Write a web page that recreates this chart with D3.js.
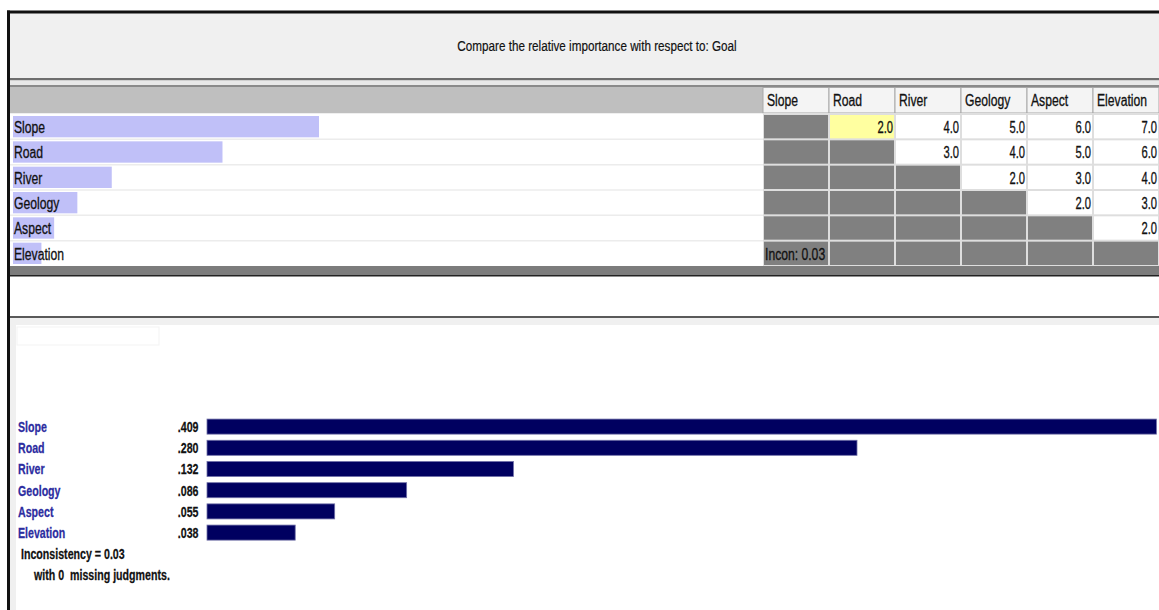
<!DOCTYPE html>
<html>
<head>
<meta charset="utf-8">
<script src="https://cdn.jsdelivr.net/npm/d3@7"></script>
<style>
  html, body { margin: 0; padding: 0; background: #ffffff; overflow: hidden; }
  svg { display: block; }
  text { font-family: "Liberation Sans", Arial, sans-serif; }
</style>
</head>
<body>
<svg id="chart" width="1159" height="610"></svg>
<script>
// ---- data ----
const titleText = "Compare the relative importance with respect to: Goal";
const criteria = ["Slope", "Road", "River", "Geology", "Aspect", "Elevation"];
const priorities = [0.409, 0.280, 0.132, 0.086, 0.055, 0.038];
const priorityLabels = [".409", ".280", ".132", ".086", ".055", ".038"];
// upper-triangle pairwise judgments (row vs column)
const judgmentsSlope = [null, 2.0, 4.0, 5.0, 6.0, 7.0];
const judgmentsRoad = [null, null, 3.0, 4.0, 5.0, 6.0];
const judgmentsRiver = [null, null, null, 2.0, 3.0, 4.0];
const judgmentsGeology = [null, null, null, null, 2.0, 3.0];
const judgmentsAspect = [null, null, null, null, null, 2.0];
const judgmentsElevation = [null, null, null, null, null, null];
const inconsistency = 0.03;
const missingJudgments = 0;
const selectedCell = ["Slope", "Road"];

const matrix = [judgmentsSlope, judgmentsRoad, judgmentsRiver, judgmentsGeology, judgmentsAspect, judgmentsElevation];

const W = 1159, H = 610;
const NARROW = 0.76;
const svg = d3.select("#chart");
const tr = (x, y, s) => `translate(${x},${y}) scale(${s === undefined ? NARROW : s},1)`;

// ---- frame ----
svg.append("rect").attr("x", 0).attr("y", 0).attr("width", W).attr("height", H).attr("fill", "#ffffff");
svg.append("rect").attr("x", 9).attr("y", 13).attr("width", W - 9).attr("height", 65).attr("fill", "#f0f0f0");
svg.append("rect").attr("x", 7).attr("y", 10.5).attr("width", W - 7).attr("height", 3).attr("fill", "#111");
svg.append("text").attr("transform", tr(597, 51, 0.78)).attr("text-anchor", "middle")
  .attr("font-size", 15).attr("fill", "#111").attr("stroke", "#111").attr("stroke-width", 0.2).text(titleText);
svg.append("rect").attr("x", 9).attr("y", 78).attr("width", W - 9).attr("height", 2.5).attr("fill", "#6e6e6e");
svg.append("rect").attr("x", 9).attr("y", 80.5).attr("width", W - 9).attr("height", 4.5).attr("fill", "#e8e8e8");
svg.append("rect").attr("x", 9).attr("y", 85).attr("width", W - 9).attr("height", 2).attr("fill", "#8a8a8a");

// ---- comparison table ----
const col = d3.scaleBand().domain(criteria).range([763, 1159]);
const row = d3.scaleBand().domain(criteria).range([114, 266]);
const headerTop = 87, headerBottom = 113.5;

svg.append("rect").attr("x", 9).attr("y", headerTop).attr("width", W - 9).attr("height", headerBottom - headerTop).attr("fill", "#bfbfbf");
const hdr = svg.append("g");
hdr.selectAll("rect").data(criteria).join("rect")
  .attr("x", d => col(d)).attr("y", headerTop + 0.5)
  .attr("width", col.bandwidth()).attr("height", headerBottom - headerTop - 1)
  .attr("fill", "#f4f4f4").attr("stroke", "#a8a8a8").attr("stroke-width", 1);
hdr.selectAll("text").data(criteria).join("text")
  .attr("transform", d => tr(col(d) + 4, 106))
  .attr("font-size", 16).attr("fill", "#111").attr("stroke", "#111").attr("stroke-width", 0.3)
  .text(d => d);

// row backgrounds and separators
svg.append("rect").attr("x", 9).attr("y", 113.5).attr("width", W - 9).attr("height", 266 - 113.5).attr("fill", "#ffffff");
svg.append("g").selectAll("line").data(criteria.slice(1)).join("line")
  .attr("x1", 10).attr("x2", 763).attr("y1", d => row(d)).attr("y2", d => row(d))
  .attr("stroke", "#ececec").attr("stroke-width", 1.5);

// priority bars behind labels
const xTop = d3.scaleLinear().domain([0, 0.409]).range([13, 319]);
svg.append("g").selectAll("rect").data(criteria).join("rect")
  .attr("x", xTop(0)).attr("y", d => row(d) + 2)
  .attr("width", (d, i) => xTop(priorities[i]) - xTop(0))
  .attr("height", row.bandwidth() - 4)
  .attr("fill", "#c0c0f8");
svg.append("g").selectAll("text").data(criteria).join("text")
  .attr("transform", d => tr(14, row(d) + 19))
  .attr("font-size", 16).attr("fill", "#111").attr("stroke", "#111").attr("stroke-width", 0.3)
  .text(d => d);

// matrix cells
svg.append("rect").attr("x", 763).attr("y", 113.5).attr("width", W - 763).attr("height", 266 - 113.5).attr("fill", "#dedede");
const cells = [];
criteria.forEach((r, i) => criteria.forEach((c, j) => cells.push({ r, c, i, j, v: matrix[i][j] })));
const cellG = svg.append("g");
cellG.selectAll("rect").data(cells).join("rect")
  .attr("x", d => col(d.c) + 1).attr("y", d => row(d.r) + 1)
  .attr("width", col.bandwidth() - 2).attr("height", row.bandwidth() - 2)
  .attr("fill", d => {
    if (d.r === selectedCell[0] && d.c === selectedCell[1]) return "#ffffa0";
    return d.j <= d.i ? "#808080" : "#ffffff";
  });
cellG.selectAll("text").data(cells.filter(d => d.v !== null)).join("text")
  .attr("transform", d => tr(col(d.c) + col.bandwidth() - 2, row(d.r) + 19, 0.7))
  .attr("text-anchor", "end").attr("font-size", 16).attr("fill", "#111").attr("stroke", "#111").attr("stroke-width", 0.3)
  .text(d => d3.format(".1f")(d.v));
svg.append("text").attr("transform", tr(col(criteria[0]) + 2, row(criteria[5]) + 19))
  .attr("font-size", 16).attr("fill", "#111").attr("stroke", "#111").attr("stroke-width", 0.3)
  .text("Incon: " + d3.format(".2f")(inconsistency));

// bottom of table
svg.append("rect").attr("x", 9).attr("y", 266).attr("width", W - 9).attr("height", 9).attr("fill", "#7c7c7c");
svg.append("rect").attr("x", 9).attr("y", 275).attr("width", W - 9).attr("height", 1.5).attr("fill", "#222");
svg.append("rect").attr("x", 9).attr("y", 316).attr("width", W - 9).attr("height", 2).attr("fill", "#5a5a5a");

// ---- lower results panel ----
svg.append("rect").attr("x", 10).attr("y", 318).attr("width", W - 10).attr("height", H - 318).attr("fill", "#f0f0f0");
svg.append("rect").attr("x", 16).attr("y", 325).attr("width", W - 16).attr("height", H - 325).attr("fill", "#ffffff");
svg.append("rect").attr("x", 17).attr("y", 327).attr("width", 142).attr("height", 18).attr("fill", "none").attr("stroke", "#f3f3f3");

// left black border
svg.append("rect").attr("x", 7).attr("y", 10.5).attr("width", 3).attr("height", H).attr("fill", "#111");

const xBot = d3.scaleLinear().domain([0, 0.280]).range([207, 857]);
const yBot = d3.scaleBand().domain(criteria).range([416, 543.2]).paddingInner(0.29).paddingOuter(0.145);

const bot = svg.append("g");
bot.selectAll("rect").data(criteria).join("rect")
  .attr("x", xBot(0)).attr("y", d => yBot(d))
  .attr("width", (d, i) => Math.min(xBot(priorities[i]), W + 2) - xBot(0))
  .attr("height", yBot.bandwidth())
  .attr("fill", "#000060").attr("stroke", "#7070a8").attr("stroke-width", 0.8);
bot.selectAll("text.lbl").data(criteria).join("text").attr("class", "lbl")
  .attr("transform", d => tr(18, yBot(d) + 13))
  .attr("font-size", 14).attr("font-weight", "bold").attr("fill", "#2c2ca0")
  .attr("stroke", "#2c2ca0").attr("stroke-width", 0.25).text(d => d);
bot.selectAll("text.val").data(criteria).join("text").attr("class", "val")
  .attr("transform", d => tr(198.5, yBot(d) + 13)).attr("text-anchor", "end")
  .attr("font-size", 14).attr("font-weight", "bold").attr("fill", "#111")
  .attr("stroke", "#111").attr("stroke-width", 0.25).text((d, i) => priorityLabels[i]);

svg.append("text").attr("transform", tr(21, 559)).attr("font-size", 14).attr("font-weight", "bold").attr("fill", "#111")
  .attr("stroke", "#111").attr("stroke-width", 0.25)
  .text("Inconsistency = " + d3.format(".2f")(inconsistency));
svg.append("text").attr("transform", tr(34, 580)).attr("font-size", 14).attr("font-weight", "bold").attr("fill", "#111")
  .attr("stroke", "#111").attr("stroke-width", 0.25)
  .attr("xml:space", "preserve").style("white-space", "pre")
  .text("with " + missingJudgments + "  missing judgments.");
</script>
</body>
</html>
